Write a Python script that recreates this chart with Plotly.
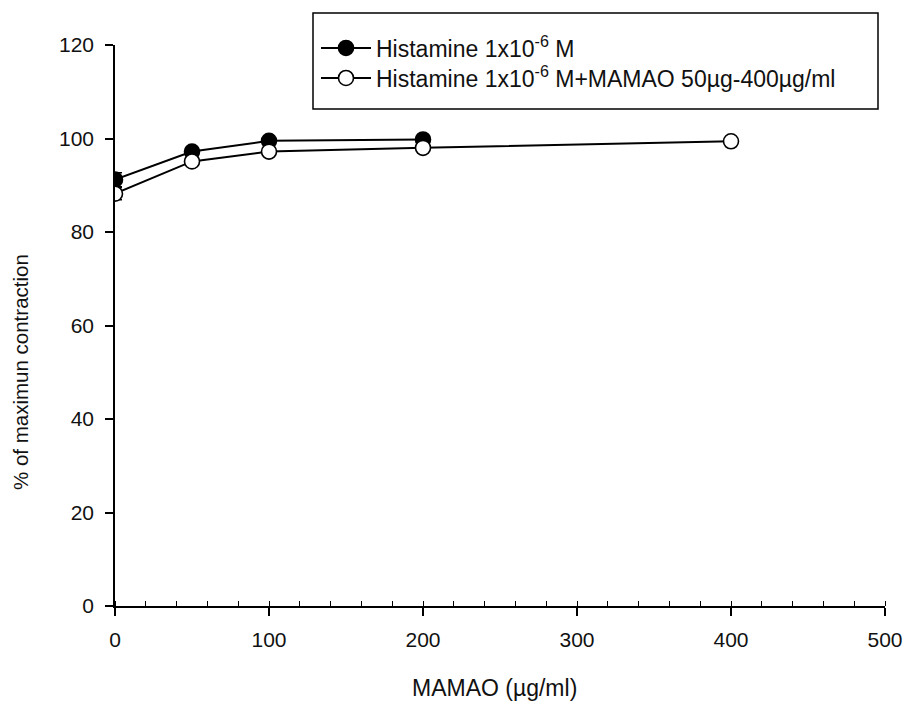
import plotly.graph_objects as go

x_hist = [0, 50, 100, 200]
y_hist = [91.2, 97.2, 99.5, 99.8]
e_hist = [1.5, 0.8, 0.5, 0.5]

x_mix = [0, 50, 100, 200, 400]
y_mix = [88.2, 95.1, 97.2, 98.0, 99.4]
e_mix = [1.3, 0.8, 0.6, 0.5, 0.4]

name_hist = "Histamine 1x10<sup>-6</sup> M"
name_mix = "Histamine 1x10<sup>-6</sup> M+MAMAO 50µg-400µg/ml"
x_title = "MAMAO (µg/ml)"
y_title = "% of maximun contraction"

font = "Liberation Sans, Arial, sans-serif"
ink = "#111"

fig = go.Figure()
fig.add_trace(go.Scatter(
    x=x_hist, y=y_hist, name=name_hist, mode="lines+markers", legend="legend",
    line=dict(color="black", width=2),
    marker=dict(symbol="circle", size=15, color="black", line=dict(color="black", width=1.6)),
    error_y=dict(type="data", array=e_hist, color="black", thickness=1.5, width=7),
))
fig.add_trace(go.Scatter(
    x=x_mix, y=y_mix, name=name_mix, mode="lines+markers", legend="legend2",
    line=dict(color="black", width=2),
    marker=dict(symbol="circle", size=15, color="white", line=dict(color="black", width=1.6)),
    error_y=dict(type="data", array=e_mix, color="black", thickness=1.5, width=7),
))

W, H = 905, 707
L, R, T, B = 115, 20, 45, 101
pw, ph = W - L - R, H - T - B

def px(x):
    return (x - L) / pw

def py(y):
    return (H - B - y) / ph

fig.add_shape(type="rect", xref="paper", yref="paper",
              x0=px(313), x1=px(878), y0=py(109), y1=py(13),
              line=dict(color="black", width=1.5), fillcolor="rgba(0,0,0,0)")

fig.add_annotation(text=x_title, xref="paper", yref="paper", x=px(494), y=py(688),
                   xanchor="center", yanchor="middle", showarrow=False,
                   font=dict(size=23, color=ink, family=font))
fig.add_annotation(text=y_title, xref="paper", yref="paper", x=px(20), y=py(372),
                   xanchor="center", yanchor="middle", showarrow=False, textangle=-90,
                   font=dict(size=20.5, color=ink, family=font))

leg_common = dict(xanchor="left", yanchor="middle", bgcolor="rgba(0,0,0,0)",
                  borderwidth=0, font=dict(size=23, color=ink), itemwidth=50)

fig.update_layout(
    width=W, height=H,
    margin=dict(l=L, r=R, t=T, b=B),
    paper_bgcolor="white", plot_bgcolor="white",
    font=dict(family=font, size=21, color=ink),
    showlegend=True,
    legend=dict(x=px(316), y=py(48), **leg_common),
    legend2=dict(x=px(316), y=py(78), **leg_common),
    xaxis=dict(range=[0, 500], showline=True, linecolor="black", linewidth=1.5,
               ticks="outside", ticklen=8, tickwidth=1.5, tickcolor="black",
               dtick=100, tick0=0, showgrid=False, zeroline=False, automargin=False,
               ticklabelstandoff=6,
               minor=dict(ticks="inside", dtick=20, ticklen=5, tickwidth=1, tickcolor="black", showgrid=False),
               tickfont=dict(size=21)),
    yaxis=dict(range=[0, 120], showline=True, linecolor="black", linewidth=1.5,
               ticks="outside", ticklen=8, tickwidth=1.5, tickcolor="black",
               dtick=20, tick0=0, showgrid=False, zeroline=False, automargin=False,
               ticklabelstandoff=7,
               tickfont=dict(size=21)),
)

fig.write_html("out.html")
